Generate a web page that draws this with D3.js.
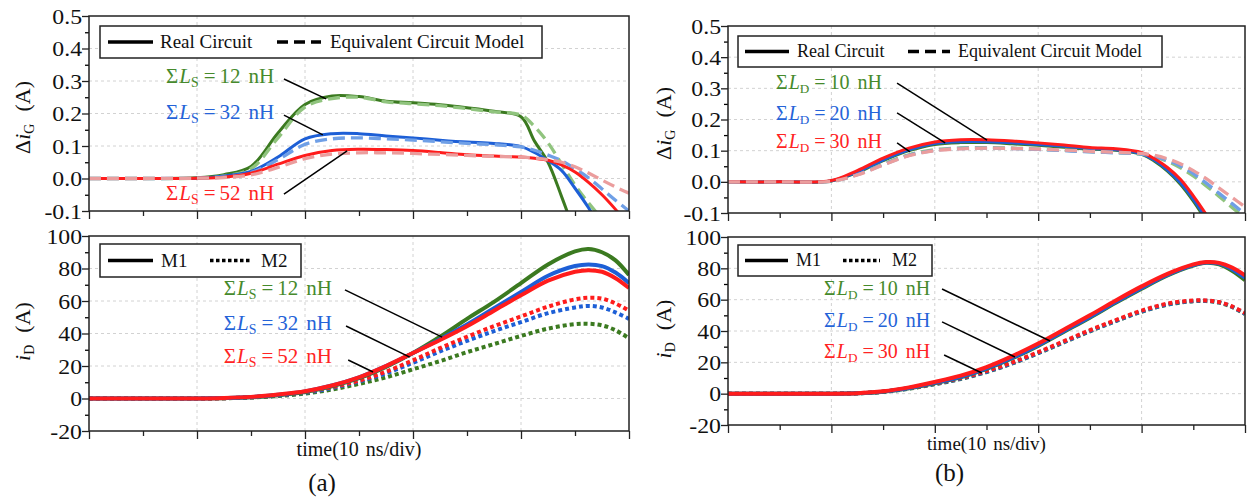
<!DOCTYPE html>
<html>
<head>
<meta charset="utf-8">
<script src="https://cdn.jsdelivr.net/npm/d3@7"></script>
<style>
  body { margin: 0; background: #fff; }
  svg { display: block; font-family: "Liberation Serif", "Times New Roman", serif; }
</style>
</head>
<body>
<svg id="chart" width="1249" height="502"></svg>
<script>
// time axis, in divisions
const topTime = [0, 1, 2, 2.5, 3, 3.5, 4, 4.5, 5, 5.5, 6, 6.5, 7, 7.5, 8, 8.25, 8.5, 8.75, 9, 9.25, 9.5, 9.75, 10];
const botTime = [0, 1, 2, 2.5, 3, 3.5, 4, 4.5, 5, 5.5, 6, 6.5, 7, 7.5, 8, 8.5, 9, 9.25, 9.5, 9.75, 10];

// (a) delta iG, real circuit vs equivalent model (A)
const aReal12 = [0, 0, 0.002, 0.012, 0.037, 0.14, 0.228, 0.254, 0.252, 0.238, 0.233, 0.227, 0.218, 0.207, 0.19, 0.115, 0.05, -0.055, -0.17, -0.3, -0.45, -0.6, -0.75];
const aModel12 = [0, 0, 0.001, 0.008, 0.03, 0.125, 0.22, 0.246, 0.25, 0.236, 0.23, 0.224, 0.215, 0.205, 0.195, 0.16, 0.11, 0.045, -0.02, -0.075, -0.125, -0.175, -0.225];
const aReal32 = [0, 0, 0.001, 0.008, 0.022, 0.066, 0.122, 0.138, 0.138, 0.131, 0.125, 0.118, 0.112, 0.108, 0.098, 0.08, 0.055, 0.025, -0.03, -0.09, -0.16, -0.23, -0.3];
const aModel32 = [0, 0, 0.001, 0.005, 0.018, 0.058, 0.105, 0.122, 0.125, 0.122, 0.118, 0.113, 0.108, 0.104, 0.097, 0.087, 0.072, 0.055, 0.03, 0.002, -0.032, -0.067, -0.1];
const aReal52 = [0, 0, 0.001, 0.004, 0.016, 0.044, 0.071, 0.086, 0.09, 0.089, 0.086, 0.08, 0.073, 0.069, 0.066, 0.062, 0.056, 0.042, 0.02, -0.012, -0.05, -0.095, -0.145];
const aModel52 = [0, 0, 0.001, 0.003, 0.011, 0.034, 0.061, 0.075, 0.079, 0.079, 0.077, 0.074, 0.071, 0.068, 0.066, 0.063, 0.058, 0.05, 0.036, 0.017, -0.005, -0.026, -0.045];

// (a) iD of M1 / M2 (A)
const aM1_12 = [0, 0, 0, 0.2, 0.7, 2, 4, 7.5, 12.5, 19.5, 28, 38, 49, 59.5, 71, 82.5, 90.5, 92, 90, 85, 76];
const aM1_32 = [0, 0, 0, 0.3, 0.9, 2.3, 4.4, 8, 13, 20, 28, 36.5, 45.5, 55.5, 65.5, 75.5, 81.5, 82.5, 81.5, 77.5, 71];
const aM1_52 = [0, 0, 0, 0.3, 1, 2.5, 4.5, 8, 13, 20, 28, 36, 44.5, 54, 63.5, 72.5, 78, 79, 78, 74, 68];
const aM2_12 = [0, 0, 0, 0.15, 0.6, 1.5, 3, 5.5, 9, 13, 18, 23, 28.5, 33.5, 38.5, 43, 45.8, 46, 45, 42, 37];
const aM2_32 = [0, 0, 0, 0.2, 0.7, 1.8, 3.5, 6.5, 10.5, 15.5, 22, 29, 35.5, 41.5, 47, 52.5, 56, 57, 56, 53, 49];
const aM2_52 = [0, 0, 0, 0.2, 0.8, 2, 4, 7, 11, 16.5, 23.5, 31, 38, 44.5, 50.5, 56.5, 61, 62, 61.5, 58.5, 54];

// (b) delta iG (A)
const bReal10 = [0, 0, 0.003, 0.03, 0.068, 0.1, 0.12, 0.126, 0.126, 0.122, 0.117, 0.111, 0.105, 0.101, 0.088, 0.066, 0.034, -0.008, -0.062, -0.125, -0.19, -0.26, -0.33];
const bModel10 = [0, 0, 0.002, 0.024, 0.057, 0.087, 0.103, 0.109, 0.11, 0.108, 0.105, 0.101, 0.097, 0.094, 0.088, 0.079, 0.066, 0.045, 0.019, -0.013, -0.047, -0.082, -0.117];
const bReal20 = [0, 0, 0.003, 0.032, 0.07, 0.103, 0.123, 0.129, 0.129, 0.125, 0.12, 0.114, 0.107, 0.103, 0.09, 0.069, 0.038, -0.003, -0.056, -0.118, -0.185, -0.255, -0.32];
const bModel20 = [0, 0, 0.002, 0.023, 0.055, 0.085, 0.101, 0.107, 0.108, 0.107, 0.104, 0.1, 0.096, 0.093, 0.089, 0.081, 0.069, 0.051, 0.026, -0.004, -0.037, -0.07, -0.103];
const bReal30 = [0, 0, 0.004, 0.036, 0.076, 0.108, 0.128, 0.135, 0.135, 0.131, 0.125, 0.118, 0.11, 0.106, 0.094, 0.074, 0.046, 0.008, -0.045, -0.105, -0.17, -0.24, -0.31];
const bModel30 = [0, 0, 0.002, 0.022, 0.054, 0.084, 0.1, 0.106, 0.108, 0.107, 0.105, 0.102, 0.098, 0.095, 0.091, 0.085, 0.074, 0.058, 0.036, 0.01, -0.02, -0.05, -0.08];

// (b) iD of M1 / M2 (A)
const bM1_10 = [0, 0, 0, 0.2, 1.2, 3.4, 6.7, 10.5, 15.8, 22.6, 30.5, 39.5, 48.5, 58, 67, 75.5, 81.8, 83.5, 82.5, 78.5, 72.5];
const bM1_20 = [0, 0, 0, 0.25, 1.3, 3.6, 7, 10.8, 16.2, 23, 31, 40, 49, 58.5, 67.5, 75.8, 82, 83.7, 83, 79.5, 74];
const bM1_30 = [0, 0, 0, 0.3, 1.5, 4, 7.5, 11.5, 17, 24, 32, 41, 50, 59.5, 68.5, 76.5, 82.5, 84, 83.5, 80.5, 75.5];
const bM2_10 = [0, 0, 0, 0.2, 1.1, 3.2, 6, 9.4, 13.8, 19.3, 25.8, 32.8, 39.8, 46.3, 52.3, 56.8, 59, 59.1, 58.1, 55.3, 50.8];
const bM2_20 = [0, 0, 0, 0.25, 1.2, 3.3, 6.2, 9.6, 14, 19.5, 26, 33, 40, 46.5, 52.5, 57, 59.2, 59.3, 58.3, 55.5, 51];
const bM2_30 = [0, 0, 0, 0.3, 1.3, 3.5, 6.5, 10, 14.5, 20, 26.5, 33.5, 40.5, 47, 53, 57.5, 59.5, 59.5, 58.5, 55.7, 51.5];

// ticks
const xMajor = [0, 2, 4, 6, 8, 10];
const xMinor = [1, 3, 5, 7, 9];
const igTicks = [-0.1, 0, 0.1, 0.2, 0.3, 0.4, 0.5];
const igMinor = [-0.05, 0.05, 0.15, 0.25, 0.35, 0.45];
const idTicks = [-20, 0, 20, 40, 60, 80, 100];
const idMinor = [-10, 10, 30, 50, 70, 90];

const labelsS = ['12', '32', '52'];
const labelsD = ['10', '20', '30'];

const GREEN = '#3b7a20', BLUE = '#1d5fd6', RED = '#ff1c1c';
const LGREEN = '#90c47e', LBLUE = '#6f9fe6', LRED = '#eb9d9d';
const TGREEN = '#468a2c', TBLUE = '#2563d8', TRED = '#ff2424';

const svg = d3.select('#chart');

function stretch(sel, k) {
    sel.each(function () {
        const w = this.getComputedTextLength();
        d3.select(this).attr('textLength', w * k).attr('lengthAdjust', 'spacingAndGlyphs');
    });
}

function mathLabel(g, x, y, color, size, sub, value) {
    const t = g.append('text')
        .attr('x', x).attr('y', y)
        .attr('fill', color)
        .attr('font-size', size)
        .attr('text-anchor', 'end');
    t.append('tspan').text('\u03A3');
    t.append('tspan').attr('dx', 1).attr('font-style', 'italic').text('L');
    t.append('tspan').attr('font-size', size * 0.66).attr('dy', size * 0.2).text(sub);
    t.append('tspan').attr('dx', 5).attr('dy', -size * 0.2).text('=');
    t.append('tspan').attr('dx', 4).text(value);
    t.append('tspan').attr('dx', 8).text('nH');
}

function subplot(p) {
    const x = d3.scaleLinear().domain([0, 10]).range([p.left, p.right]);
    const y = d3.scaleLinear().domain([p.ticks[0], p.ticks[p.ticks.length - 1]]).range([p.bottom, p.top]);
    const g = svg.append('g');

    svg.append('clipPath').attr('id', 'clip-' + p.id)
        .append('rect')
        .attr('x', p.left).attr('y', p.top)
        .attr('width', p.right - p.left).attr('height', p.bottom - p.top);

    // dashed grid
    g.append('g').selectAll('line').data(p.ticks.slice(1, -1)).join('line')
        .attr('x1', p.left).attr('x2', p.right)
        .attr('y1', d => y(d)).attr('y2', d => y(d))
        .attr('stroke', '#d2d2d2').attr('stroke-dasharray', '3,3');
    g.append('g').selectAll('line').data(xMajor.slice(1, -1)).join('line')
        .attr('x1', d => x(d)).attr('x2', d => x(d))
        .attr('y1', p.top).attr('y2', p.bottom)
        .attr('stroke', '#d2d2d2').attr('stroke-dasharray', '3,3');

    // axes
    const fmt = p.decimals ? (d => d.toFixed(p.decimals)) : (d => String(d));
    const ya = g.append('g').attr('transform', `translate(${p.left},0)`)
        .call(d3.axisLeft(y).tickValues(p.ticks).tickSize(7).tickPadding(0).tickFormat(fmt));
    g.append('g').attr('transform', `translate(${p.left},0)`)
        .call(d3.axisLeft(y).tickValues(p.minor).tickSize(4).tickFormat(''))
        .call(s => s.select('.domain').remove());
    ya.select('.domain').remove();
    ya.attr('font-family', null).attr('font-size', 22).attr('color', '#222');
    ya.selectAll('text').attr('fill', '#111');
    stretch(ya.selectAll('text'), 1.08);

    g.append('g').attr('transform', `translate(0,${p.bottom})`)
        .call(d3.axisBottom(x).tickValues(xMajor).tickSize(8).tickFormat(''))
        .call(s => s.select('.domain').remove())
        .attr('color', '#222');
    g.append('g').attr('transform', `translate(0,${p.bottom})`)
        .call(d3.axisBottom(x).tickValues(xMinor).tickSize(5).tickFormat(''))
        .call(s => s.select('.domain').remove())
        .attr('color', '#222');
    g.selectAll('.tick line').attr('stroke-width', 1.3);

    // curves
    const curves = g.append('g').attr('clip-path', `url(#clip-${p.id})`);
    p.series.forEach(s => {
        const line = d3.line()
            .x((d, i) => x(p.time[i]))
            .y(d => y(d))
            .curve(d3.curveCatmullRom.alpha(0.5));
        curves.append('path')
            .datum(s.values)
            .attr('fill', 'none')
            .attr('stroke', s.color)
            .attr('stroke-width', s.width)
            .attr('stroke-dasharray', s.dash || null)
            .attr('d', line);
    });

    // frame
    g.append('rect')
        .attr('x', p.left).attr('y', p.top)
        .attr('width', p.right - p.left).attr('height', p.bottom - p.top)
        .attr('fill', 'none').attr('stroke', '#222').attr('stroke-width', 1.5);

    // legend
    const L = p.legend;
    const lg = g.append('g').attr('transform', `translate(${L.x},${L.y})`);
    lg.append('rect').attr('width', L.w).attr('height', L.h)
        .attr('fill', '#fff').attr('stroke', '#222').attr('stroke-width', 1.5);
    L.items.forEach(it => {
        lg.append('line')
            .attr('x1', it.x1).attr('x2', it.x2)
            .attr('y1', L.h / 2).attr('y2', L.h / 2)
            .attr('stroke', '#000').attr('stroke-width', 3.5)
            .attr('stroke-dasharray', it.dash || null);
        lg.append('text')
            .attr('x', it.tx).attr('y', L.h / 2).attr('dy', '0.33em')
            .attr('font-size', L.size).attr('fill', '#111')
            .text(it.text);
    });

    // annotations
    const colors = [TGREEN, TBLUE, TRED];
    p.notes.forEach((n, i) => {
        g.append('line')
            .attr('x1', x(n.from[0])).attr('y1', y(n.from[1]))
            .attr('x2', x(n.to[0])).attr('y2', y(n.to[1]))
            .attr('stroke', '#000').attr('stroke-width', 1.5);
        mathLabel(g, x(p.noteX), y(n.base), colors[i], p.noteSize, p.sub, p.noteText[i]);
    });

    // y title
    const yt = g.append('text')
        .attr('transform', `translate(${p.left - p.titleOff},${(p.top + p.bottom) / 2 + p.titleShift}) rotate(-90)`)
        .attr('text-anchor', 'middle').attr('dy', '0.35em')
        .attr('font-size', 22).attr('fill', '#111');
    if (p.delta) yt.append('tspan').text('\u0394');
    yt.append('tspan').attr('font-style', 'italic').text('i');
    yt.append('tspan').attr('font-size', 14).attr('dy', 4).text(p.ySub);
    yt.append('tspan').attr('dx', 12).attr('dy', -4).text('(A)');

    return { x, y };
}

function panel(opt) {
    subplot({
        id: opt.id + 'top', left: opt.left, right: opt.right, top: opt.top0, bottom: opt.bottom0,
        ticks: igTicks, minor: igMinor, decimals: 1, time: topTime,
        series: opt.topSeries, legend: opt.topLegend,
        notes: opt.topNotes, noteX: opt.topNoteX, noteSize: opt.noteSize, sub: opt.sub, noteText: opt.noteText,
        delta: true, ySub: 'G', titleOff: opt.titleOff, titleShift: 4
    });
    subplot({
        id: opt.id + 'bot', left: opt.left, right: opt.right, top: opt.top1, bottom: opt.bottom1,
        ticks: idTicks, minor: idMinor, decimals: 0, time: botTime,
        series: opt.botSeries, legend: opt.botLegend,
        notes: opt.botNotes, noteX: opt.botNoteX, noteSize: opt.noteSize, sub: opt.sub, noteText: opt.noteText,
        delta: false, ySub: 'D', titleOff: opt.titleOff, titleShift: -2
    });
    const cx = (opt.left + opt.right) / 2;
    const xt = svg.append('text')
        .attr('x', cx).attr('y', opt.bottom1 + 25)
        .attr('text-anchor', 'middle')
        .attr('font-size', opt.xTitleSize).attr('fill', '#111');
    xt.append('tspan').text('time(10');
    xt.append('tspan').attr('dx', 7).text('ns/div)');
    svg.append('text')
        .attr('x', cx - 37).attr('y', opt.letterY)
        .attr('text-anchor', 'middle')
        .attr('font-size', 25).attr('fill', '#111')
        .text(opt.letter);
}

function dashedSet(realG, modelG, realB, modelB, realR, modelR) {
    return [
        { values: realG, color: GREEN, width: 3 },
        { values: modelG, color: LGREEN, width: 3.3, dash: '12,6' },
        { values: realB, color: BLUE, width: 3 },
        { values: modelB, color: LBLUE, width: 3.3, dash: '12,6' },
        { values: realR, color: RED, width: 3 },
        { values: modelR, color: LRED, width: 3.3, dash: '12,6' }
    ];
}

function mosSet(m1G, m1B, m1R, m2G, m2B, m2R) {
    return [
        { values: m2G, color: GREEN, width: 4, dash: '4,3' },
        { values: m2B, color: BLUE, width: 4, dash: '4,3' },
        { values: m2R, color: RED, width: 4, dash: '4,3' },
        { values: m1G, color: GREEN, width: 4 },
        { values: m1B, color: BLUE, width: 4 },
        { values: m1R, color: RED, width: 4 }
    ];
}

panel({
    id: 'a', left: 89, right: 629, top0: 16, bottom0: 211, top1: 236, bottom1: 431,
    titleOff: 67, xTitleSize: 20, letter: '(a)', letterY: 491,
    sub: 'S', noteText: labelsS, noteSize: 21,
    topSeries: dashedSet(aReal12, aModel12, aReal32, aModel32, aReal52, aModel52),
    botSeries: mosSet(aM1_12, aM1_32, aM1_52, aM2_12, aM2_32, aM2_52),
    topLegend: { x: 100, y: 26, w: 442, h: 32, size: 19, items: [
        { x1: 8, x2: 53, tx: 60, text: 'Real Circuit' },
        { x1: 177, x2: 221, tx: 230, text: 'Equivalent Circuit Model', dash: '11,6' }
    ] },
    botLegend: { x: 100, y: 244, w: 201, h: 33, size: 19, items: [
        { x1: 8, x2: 53, tx: 61, text: 'M1' },
        { x1: 110, x2: 150, tx: 161, text: 'M2', dash: '3.5,2.5' }
    ] },
    topNoteX: 3.43,
    topNotes: [
        { base: 0.294, from: [3.61, 0.306], to: [4.39, 0.245] },
        { base: 0.183, from: [3.61, 0.195], to: [4.33, 0.134] },
        { base: -0.066, from: [3.61, -0.048], to: [4.78, 0.085] }
    ],
    botNoteX: 4.5,
    botNotes: [
        { base: 63.7, from: [4.74, 66.8], to: [6.54, 37.8] },
        { base: 42, from: [4.76, 44.6], to: [5.94, 25.5] },
        { base: 21.8, from: [4.8, 23.7], to: [5.26, 16.3] }
    ]
});

panel({
    id: 'b', left: 728, right: 1245, top0: 26, bottom0: 213, top1: 237, bottom1: 425,
    titleOff: 65, xTitleSize: 19, letter: '(b)', letterY: 481,
    sub: 'D', noteText: labelsD, noteSize: 20,
    topSeries: dashedSet(bReal10, bModel10, bReal20, bModel20, bReal30, bModel30),
    botSeries: mosSet(bM1_10, bM1_20, bM1_30, bM2_10, bM2_20, bM2_30),
    topLegend: { x: 738, y: 36, w: 424, h: 31, size: 18, items: [
        { x1: 7, x2: 51, tx: 59, text: 'Real Circuit' },
        { x1: 170, x2: 212, tx: 220, text: 'Equivalent Circuit Model', dash: '11,6' }
    ] },
    botLegend: { x: 738, y: 245, w: 194, h: 31, size: 18, items: [
        { x1: 7, x2: 50, tx: 58, text: 'M1' },
        { x1: 105, x2: 142, tx: 154, text: 'M2', dash: '3.5,2.5' }
    ] },
    topNoteX: 2.98,
    topNotes: [
        { base: 0.298, from: [3.27, 0.317], to: [5.01, 0.134] },
        { base: 0.2, from: [3.27, 0.221], to: [4.2, 0.125] },
        { base: 0.109, from: [3.27, 0.125], to: [3.52, 0.096] }
    ],
    botNoteX: 3.91,
    botNotes: [
        { base: 63, from: [4.14, 66.8], to: [6.23, 33.6] },
        { base: 42.8, from: [4.14, 45.8], to: [5.55, 23.4] },
        { base: 22.8, from: [4.18, 24.7], to: [4.91, 13.2] }
    ]
});
</script>
</body>
</html>
